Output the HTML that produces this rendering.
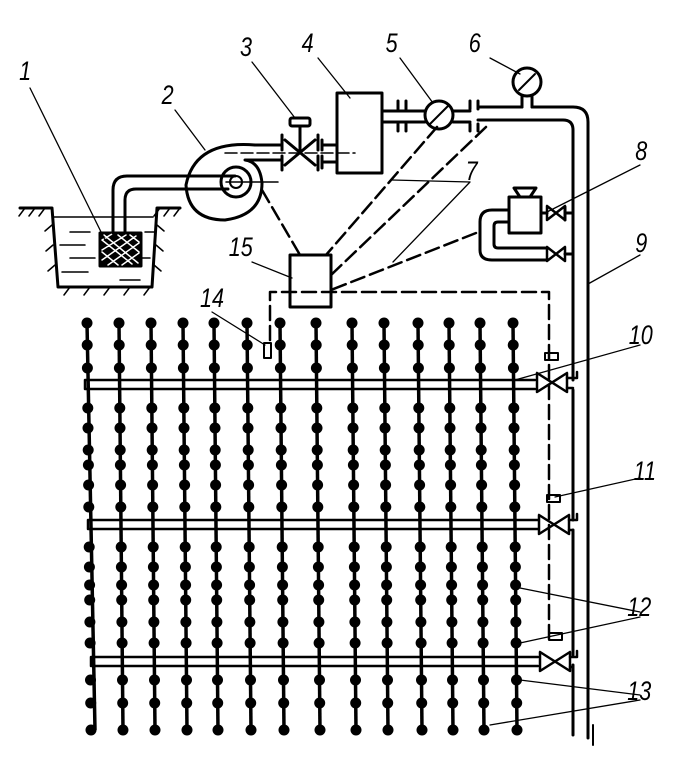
<!DOCTYPE html>
<html><head><meta charset="utf-8"><style>
html,body{margin:0;padding:0;background:#fff;}
svg{display:block;}
text{font-family:"Liberation Sans",sans-serif;font-style:italic;font-size:27px;fill:#000;}
</style></head><body>
<svg width="680" height="762" viewBox="0 0 680 762" xmlns="http://www.w3.org/2000/svg">
<g stroke="#000" fill="none" stroke-width="3" stroke-linecap="round" stroke-linejoin="round">
<path d="M20 208 H52 L58 287 H152 L157 208 H180"/>
<g stroke-width="1.5">
<path d="M25 208 l-6 8 M35 208 l-6 8 M45 208 l-6 8 M160 208 l-6 8 M170 208 l-6 8 M180 208 l-6 8"/>
<path d="M52 225 l-7 6 M53 245 l-7 6 M55 265 l-7 6 M157 225 l7 6 M156 245 l7 6 M154 265 l7 6"/>
<path d="M70 287 l-6 8 M90 287 l-6 8 M110 287 l-6 8 M130 287 l-6 8 M150 287 l-6 8"/>
<path d="M54 217 H153 M70 232 H90 M60 245 H85 M70 258 H95 M62 272 H88 M145 232 H155 M140 258 H150 M120 280 H140"/>
</g>
<rect x="100" y="233" width="41" height="33" fill="#000"/>
<g stroke="#fff" stroke-width="1.5"><path d="M102 240 l10 -6 M102 250 l24 -15 M102 260 l34 -24 M108 265 l31 -22 M122 265 l17 -12 M102 240 l30 24 M104 235 l34 28 M118 235 l21 17 M130 235 l9 7 M102 252 l16 13"/></g>
<path d="M113 233 V190 Q113 176 127 176 H235"/>
<path d="M125 233 V200 Q125 189 136 189 H228"/>
<path d="M255 145 Q195 140 186 185 Q188 220 225 220 Q262 215 262 183 Q260 162 245 160 H282"/>
<path d="M255 145 H282"/>
<circle cx="236" cy="182" r="15"/>
<circle cx="236" cy="182" r="6" stroke-width="2"/>
<path d="M226 182 H278" stroke-width="1.5"/>
<path d="M282 135 V150 M282 156 V170 M318 135 V150 M318 156 V170 M322 140 V150 M322 156 V168 M322 145 H337 M322 162 H337"/>
<path d="M285 140 L315 165 M285 165 L315 140 M300 126 V152"/>
<rect x="290" y="118" width="20" height="8" rx="2"/>
<path d="M225 153 H355" stroke-width="1.5" stroke-dasharray="12 4"/>
<rect x="337" y="93" width="45" height="80"/>
<path d="M382 111 H425 M382 122 H425 M398 101 V109 M398 124 V131 M406 101 V109 M406 124 V131"/>
<circle cx="439" cy="115" r="14"/>
<path d="M430 124 L448 106" stroke-width="2"/>
<path d="M453 111 H470 M453 122 H470 M470 101 V109 M470 124 V131 M478 101 V109 M478 124 V131"/>
<path d="M478 107 H522 M478 120 H520"/>
<circle cx="527" cy="82" r="14"/>
<path d="M519 90 L535 74" stroke-width="2"/>
<path d="M522 96 V107 M532 96 V107"/>
<path d="M532 107 H573 Q588 107 588 122 V738"/>
<path d="M520 120 H563 Q573 120 573 130 V380 M573 390 V520 M573 530 V655 M573 665 V735"/>
<path d="M593 725 V745" stroke-width="2"/>
<rect x="509" y="197" width="32" height="36"/>
<path d="M514 188 H536 L530 197 H520 Z"/>
<path d="M541 213 H547"/>
<path d="M547 206 L547 220 L565 206 L565 220 Z" stroke-width="2.5"/>
<path d="M565 213 H573 M565 207 V220"/>
<path d="M509 210 H492 Q480 210 480 222 V250 Q480 260 492 260 H547 M509 222 H498 Q494 222 494 226 V244 Q494 248 498 248 H547"/>
<path d="M547 247 L547 261 L565 247 L565 261 Z" stroke-width="2.5"/>
<path d="M565 254 H573"/>
<rect x="290" y="255" width="41" height="52"/>
<g stroke-dasharray="14 6" stroke-width="2.5">
<path d="M262 190 L300 255"/>
<path d="M437 127 L326 255"/>
<path d="M486 127 L331 275"/>
<path d="M476 233 L331 290"/>
<path d="M270 340 V292 H549 V640"/>
</g>
<rect x="264" y="343" width="7" height="15" stroke-width="2"/>
<rect x="545" y="353" width="13" height="7" stroke-width="2"/>
<rect x="547" y="495" width="13" height="7" stroke-width="2"/>
<rect x="549" y="633" width="13" height="7" stroke-width="2"/>
<g stroke-width="2.5">
<path d="M85 380 H535 M85 389 H535 M85 380 V389"/>
<path d="M88 520 H538 M88 529 H538 M88 520 V529"/>
<path d="M91 657 H538 M91 666 H538 M91 657 V666"/>
</g>
<g stroke-width="2.5">
<path d="M537 373 L537 392 L567 373 L567 392 Z"/>
<path d="M567 378 H577 V372 M567 388 H573"/>
<path d="M539 515 L539 534 L569 515 L569 534 Z"/>
<path d="M569 520 H577 V514 M569 530 H573"/>
<path d="M540 652 L540 671 L570 652 L570 671 Z"/>
<path d="M570 657 H577 V651 M570 667 H573"/>
</g>
<g stroke-width="1.3">
<path d="M30 88 L105 240"/>
<path d="M175 110 L205 150"/>
<path d="M252 62 L295 118"/>
<path d="M318 58 L350 98"/>
<path d="M400 58 L433 103"/>
<path d="M490 58 L520 74"/>
<path d="M470 182 L392 180 M470 182 L393 262"/>
<path d="M640 165 L545 213"/>
<path d="M640 255 L588 284"/>
<path d="M640 345 L515 380"/>
<path d="M640 478 L555 497"/>
<path d="M640 612 L520 588 M640 617 L520 643"/>
<path d="M640 695 L520 680 M640 700 L490 725"/>
<path d="M212 312 L265 345"/>
<path d="M252 262 L292 278"/>
</g>
</g>
<g stroke="#000" stroke-width="3.5">
<line x1="87" y1="323" x2="95" y2="730"/><line x1="119" y1="323" x2="123" y2="730"/><line x1="151" y1="323" x2="155" y2="730"/><line x1="183" y1="323" x2="187" y2="730"/><line x1="214" y1="323" x2="218" y2="730"/><line x1="247" y1="323" x2="251" y2="730"/><line x1="280" y1="323" x2="284" y2="730"/><line x1="316" y1="323" x2="320" y2="730"/><line x1="352" y1="323" x2="356" y2="730"/><line x1="384" y1="323" x2="388" y2="730"/><line x1="418" y1="323" x2="422" y2="730"/><line x1="449" y1="323" x2="453" y2="730"/><line x1="480" y1="323" x2="484" y2="730"/><line x1="513" y1="323" x2="517" y2="730"/>
</g>
<g fill="#000" id="dots"></g>
<g transform="scale(0.8,1)">
<text x="24" y="80">1</text>
<text x="202" y="104">2</text>
<text x="300" y="56">3</text>
<text x="377" y="52">4</text>
<text x="482" y="52">5</text>
<text x="586" y="52">6</text>
<text x="582" y="180">7</text>
<text x="794" y="160">8</text>
<text x="794" y="252">9</text>
<text x="786" y="344">10</text>
<text x="792" y="480">11</text>
<text x="784" y="616">12</text>
<text x="784" y="700">13</text>
<text x="250" y="307">14</text>
<text x="286" y="256">15</text>
</g>
</svg>
<script>
(function(){
var xs=[87,119,151,183,214,247,280,316,352,384,418,449,480,513];
var ys=[323,345,368,408,428,450,465,485,507,547,567,585,600,622,643,680,703,730];
var g=document.getElementById('dots');var s='';
xs.forEach(function(x){ys.forEach(function(y){var cx=x+(y-323)/407*4;s+='<circle cx="'+cx.toFixed(1)+'" cy="'+y+'" r="5.5"/>';});});
g.innerHTML=s;
})();
</script>
</body></html>
